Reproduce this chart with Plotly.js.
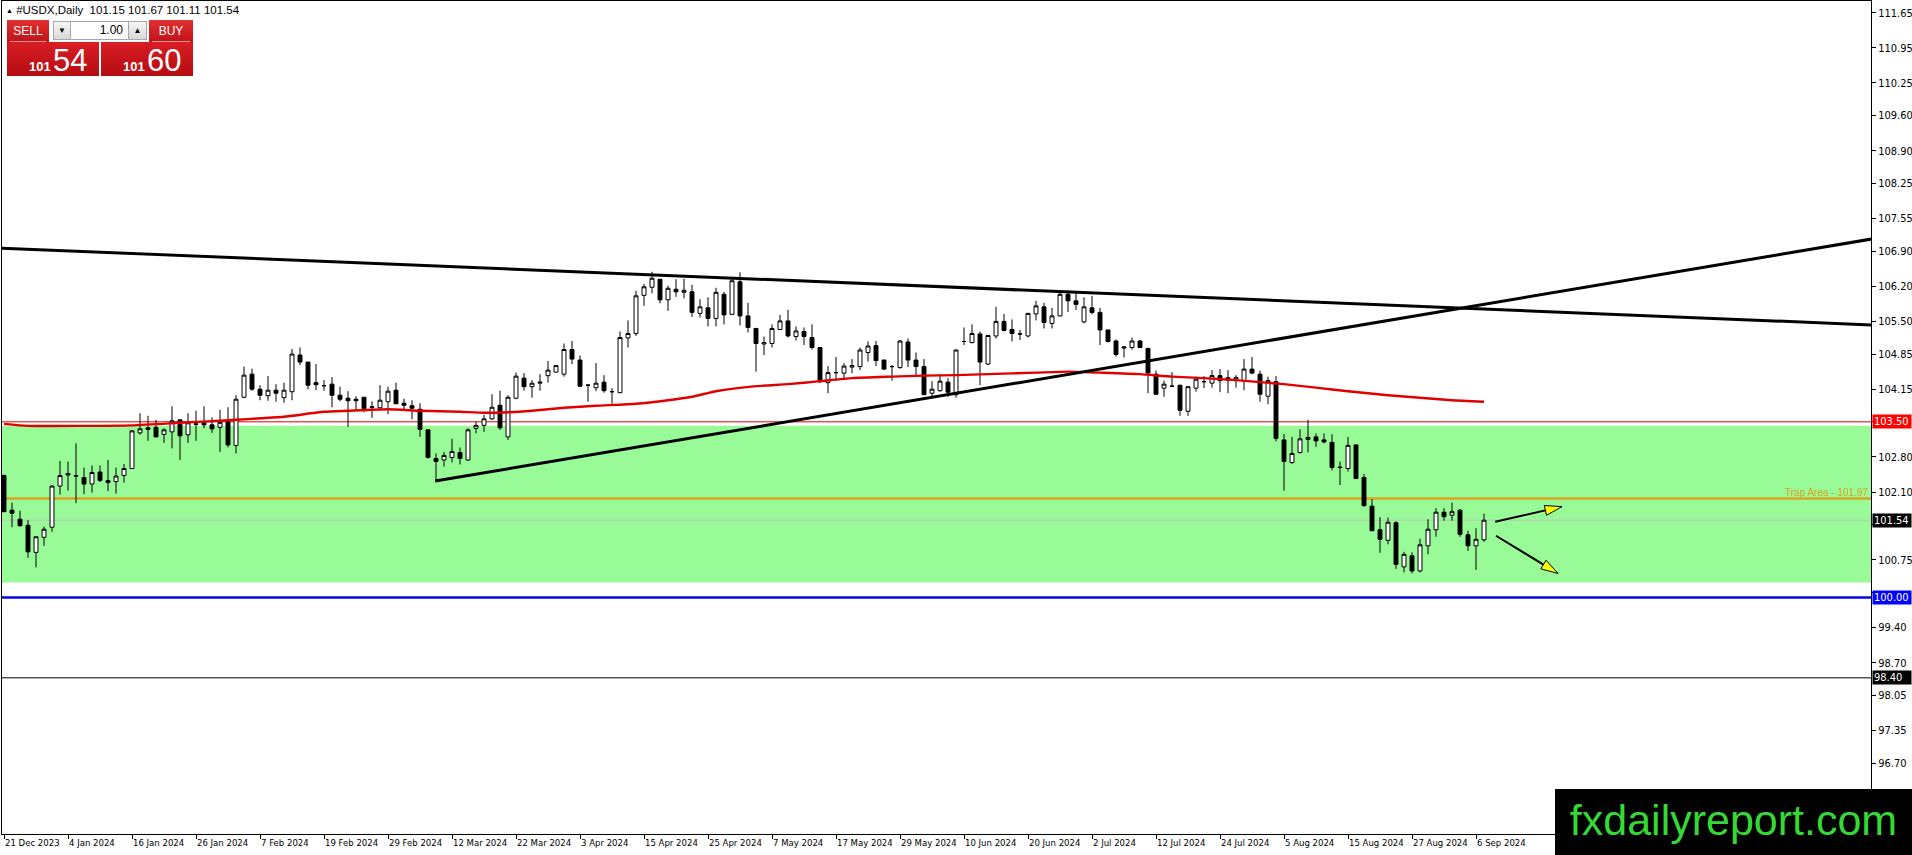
<!DOCTYPE html>
<html>
<head>
<meta charset="utf-8">
<script src="https://cdn.plot.ly/plotly-3.0.1.min.js"></script>
<style>
  html, body { margin:0; padding:0; background:#fff; }
  #wrap { position:relative; width:1912px; height:855px; overflow:hidden; }
  #chart { position:absolute; left:0; top:0; width:1912px; height:855px; }
  .ov { position:absolute; box-sizing:border-box; font-family:'Liberation Sans', Arial, sans-serif; }
  .red { background:linear-gradient(#e23030, #c01218); color:#fff; }
  .redbig { background:linear-gradient(#d81e24, #b40c12); color:#fff; }
  .spin { background:linear-gradient(#f6f6f6, #d8d8d8); border:1px solid #a8a8a8; color:#000; font-size:8px; text-align:center; line-height:17px; }
</style>
</head>
<body>
<div id="wrap">
  <div id="chart"></div>
  <div class="ov" style="left:6px;top:3px;font-size:11.5px;color:#000;white-space:nowrap;line-height:14px;"><span style="font-size:7px;vertical-align:1px;">▲</span>&nbsp;#USDX,Daily&nbsp;&nbsp;101.15 101.67 101.11 101.54</div>
  <div class="ov red" style="left:7px;top:20px;width:42px;height:22px;font-size:12px;text-align:center;line-height:22px;">SELL</div>
  <div class="ov" style="left:10px;top:41px;width:36px;height:1px;background:rgba(255,255,255,0.55);"></div>
  <div class="ov spin" style="left:53px;top:21px;width:18px;height:19px;">▼</div>
  <div class="ov" style="left:71px;top:21px;width:57px;height:19px;background:#fff;border-top:1px solid #a8a8a8;border-bottom:1px solid #a8a8a8;font-size:12px;text-align:right;padding-right:5px;line-height:17px;color:#000;">1.00</div>
  <div class="ov spin" style="left:128px;top:21px;width:19px;height:19px;">▲</div>
  <div class="ov red" style="left:149px;top:20px;width:44px;height:22px;font-size:12px;text-align:center;line-height:22px;">BUY</div>
  <div class="ov" style="left:152px;top:41px;width:38px;height:1px;background:rgba(255,255,255,0.55);"></div>
  <div class="ov redbig" style="left:7px;top:42px;width:92px;height:34px;">
    <span style="position:absolute;left:22px;top:17px;font-size:13px;font-weight:bold;">101</span>
    <span style="position:absolute;left:46px;top:1px;font-size:31px;">54</span>
  </div>
  <div class="ov redbig" style="left:101px;top:42px;width:92px;height:34px;">
    <span style="position:absolute;left:22px;top:17px;font-size:13px;font-weight:bold;">101</span>
    <span style="position:absolute;left:46px;top:1px;font-size:31px;">60</span>
  </div>
  <div class="ov" style="left:1555px;top:789px;width:357px;height:66px;background:#000;color:#35d935;font-size:43px;text-align:center;line-height:62px;">fxdailyreport.com</div>
</div>
<script>
// ---- data (bar index = trading day since 21 Dec 2023) ----
const tickLabels = ['21 Dec 2023','4 Jan 2024','16 Jan 2024','26 Jan 2024','7 Feb 2024','19 Feb 2024','29 Feb 2024','12 Mar 2024','22 Mar 2024','3 Apr 2024','15 Apr 2024','25 Apr 2024','7 May 2024','17 May 2024','29 May 2024','10 Jun 2024','20 Jun 2024','2 Jul 2024','12 Jul 2024','24 Jul 2024','5 Aug 2024','15 Aug 2024','27 Aug 2024','6 Sep 2024'];
const barsPerLabel = 8;

const open  = [102.43,101.74,101.56,101.44,100.90,101.20,101.40,102.22,102.44,102.43,102.39,102.26,102.50,102.33,102.31,102.43,102.57,103.28,103.38,103.39,103.25,103.30,103.54,103.24,103.46,103.48,103.44,103.39,103.50,103.03,
103.99,104.45,104.15,104.02,104.13,103.98,104.10,104.83,104.69,104.28,104.22,104.25,104.03,103.97,103.95,103.99,103.80,103.78,103.90,104.13,103.87,103.82,103.75,103.34,102.77,102.74,102.79,102.89,102.74,103.37,
103.43,103.56,103.83,103.20,103.97,104.37,104.20,104.27,104.42,104.49,104.45,104.94,104.73,104.23,104.18,104.29,104.10,104.08,105.17,105.26,106.02,106.18,106.34,105.93,106.14,106.08,106.09,105.66,105.77,105.56,
106.04,105.64,106.29,105.61,105.36,105.05,105.06,105.34,105.51,105.20,105.30,105.18,104.98,104.28,104.48,104.47,104.59,104.60,104.88,105.02,104.73,104.60,104.58,105.09,104.73,104.60,104.07,104.12,104.29,104.04,
105.10,105.08,105.25,104.65,105.21,105.50,105.34,105.25,105.21,105.65,105.79,105.46,105.61,106.04,105.91,105.49,105.77,105.68,105.33,105.11,104.97,104.98,105.11,104.96,104.45,104.17,104.21,104.23,103.71,104.17,
104.30,104.27,104.42,104.33,104.35,104.31,104.55,104.45,104.01,104.30,103.14,102.69,102.89,103.15,103.20,103.14,103.09,102.60,102.57,103.04,102.39,101.82,101.35,101.14,101.49,100.61,100.83,100.53,101.03,101.35,
101.70,101.64,101.74,101.25,101.03,101.15];
const high  = [102.45,101.89,101.73,101.54,101.22,101.41,102.24,102.72,102.71,103.07,102.59,102.63,102.63,102.74,102.59,102.66,103.34,103.67,103.62,103.54,103.37,103.81,103.54,103.67,103.72,103.81,103.59,103.74,103.79,104.03,
104.60,104.56,104.23,104.41,104.25,104.28,104.95,104.98,104.69,104.65,104.33,104.39,104.20,104.11,104.01,103.99,103.91,104.23,104.20,104.28,103.96,103.93,103.87,103.34,102.87,102.90,103.16,102.99,103.37,103.50,
103.64,104.05,104.12,104.03,104.48,104.47,104.33,104.45,104.71,104.62,105.06,105.11,104.82,104.25,104.67,104.43,104.17,105.30,105.52,106.11,106.25,106.49,106.34,106.21,106.34,106.35,106.23,105.94,105.98,106.17,
106.09,106.38,106.48,105.87,105.36,105.20,105.44,105.63,105.73,105.40,105.38,105.44,104.98,104.61,104.79,104.67,104.75,104.98,105.10,105.11,104.74,104.63,105.13,105.16,104.88,104.75,104.31,104.45,104.37,104.94,
105.38,105.44,105.30,105.22,105.79,105.65,105.54,105.33,105.67,105.91,105.87,105.77,106.11,106.11,106.11,105.98,106.01,105.77,105.33,105.14,105.01,105.18,105.13,104.98,104.52,104.32,104.49,104.23,104.21,104.40,
104.41,104.53,104.55,104.53,104.43,104.75,104.79,104.52,104.40,104.41,103.26,103.20,103.35,103.54,103.27,103.27,103.25,102.71,103.20,103.04,102.46,101.96,101.60,101.59,101.52,100.91,100.90,101.17,101.56,101.78,
101.78,101.89,101.76,101.33,101.38,101.67];
const low   = [101.70,101.40,101.41,100.79,100.60,101.03,101.31,102.05,102.13,101.88,102.06,102.09,102.30,102.12,102.07,102.29,102.56,103.24,103.12,103.19,103.08,102.97,102.74,103.08,103.12,103.37,103.28,102.90,102.99,102.87,
103.97,104.12,103.93,103.92,103.90,103.88,103.93,104.63,104.15,104.13,104.12,103.79,103.91,103.40,103.72,103.69,103.58,103.75,103.65,103.86,103.75,103.55,103.20,102.77,102.33,102.61,102.69,102.65,102.72,103.27,
103.30,103.54,103.34,103.14,103.95,104.12,103.98,104.12,104.28,104.48,104.40,104.65,104.19,103.90,104.11,104.08,103.86,104.07,104.98,105.21,105.81,106.06,105.86,105.71,105.99,105.96,105.59,105.58,105.40,105.40,
105.44,105.63,105.42,105.28,104.50,104.83,104.98,105.33,105.18,105.12,105.03,104.94,104.27,104.07,104.32,104.37,104.47,104.53,104.70,104.61,104.53,104.32,104.56,104.59,104.43,104.03,104.00,104.10,104.00,103.98,
105.03,105.06,104.23,104.63,105.16,105.30,105.10,105.13,105.18,105.52,105.36,105.36,105.60,105.69,105.73,105.46,105.64,105.03,105.08,104.80,104.78,104.94,104.97,104.07,104.03,104.00,104.19,103.62,103.62,104.10,
104.17,104.18,104.09,104.07,104.18,104.13,104.45,103.90,103.85,103.11,102.13,102.66,102.87,102.89,103.00,103.07,102.53,102.24,102.51,102.37,101.81,101.33,100.89,101.06,100.57,100.50,100.48,100.50,100.86,101.21,
101.53,101.53,101.21,100.93,100.55,101.11];
const close = [101.71,101.68,101.43,100.91,101.21,101.36,102.22,102.43,102.47,102.42,102.26,102.49,102.33,102.29,102.42,102.57,103.32,103.36,103.35,103.20,103.34,103.52,103.22,103.48,103.45,103.44,103.36,103.49,103.04,103.95,
104.43,104.15,104.03,104.13,104.07,104.13,104.85,104.69,104.23,104.24,104.22,104.03,103.95,103.92,103.92,103.76,103.79,103.93,104.11,103.86,103.83,103.77,103.35,102.79,102.71,102.83,102.91,102.77,103.34,103.43,
103.56,103.79,103.38,103.99,104.41,104.20,104.27,104.29,104.53,104.62,104.94,104.75,104.21,104.23,104.27,104.12,104.10,105.18,105.26,106.01,106.19,106.36,105.93,106.16,106.09,106.12,105.68,105.79,105.56,106.08,
105.63,106.31,105.61,105.38,105.06,105.08,105.36,105.51,105.21,105.31,105.20,104.98,104.30,104.48,104.48,104.61,104.62,104.93,105.01,104.72,104.55,104.60,105.11,104.73,104.60,104.04,104.15,104.31,104.09,104.93,
105.10,105.26,104.69,105.22,105.50,105.32,105.26,105.25,105.66,105.81,105.48,105.61,106.04,105.91,105.84,105.79,105.68,105.33,105.10,104.84,104.99,105.11,104.98,104.47,104.05,104.25,104.21,103.73,104.20,104.35,
104.30,104.42,104.32,104.38,104.38,104.55,104.47,104.05,104.32,103.17,102.71,102.87,103.16,103.19,103.12,103.10,102.59,102.59,103.03,102.37,101.83,101.33,101.16,101.50,100.66,100.86,100.53,101.05,101.36,101.70,
101.61,101.71,101.26,101.03,101.16,101.54];

// red moving average, read at sample bars
const maIdx = [0,3,16,22,29,32,35,40,43,48,52,57,60,63,66,70,74,79,83,86,89,94,98,102,106,111,115,119,123,129,133,137,142,146,150,154,160,164,168,173,177,181,185];
const maVal = [103.46,103.42,103.43,103.48,103.54,103.57,103.60,103.70,103.72,103.75,103.72,103.70,103.68,103.69,103.72,103.78,103.82,103.86,103.93,104.00,104.11,104.21,104.25,104.31,104.37,104.40,104.42,104.43,104.45,104.48,104.50,104.48,104.45,104.40,104.37,104.33,104.25,104.18,104.11,104.03,103.98,103.93,103.90];

// trend lines (bar index, price)
const trendDownX = [-0.25, 233.4], trendDownY = [106.96, 105.43];
const trendUpX   = [53.9, 233.4],  trendUpY   = [102.32, 107.14];

// horizontal levels
const zoneTop = 103.42, zoneBottom = 100.30;
const resLevel = 103.50, trapLevel = 101.97, bidLevel = 101.54, psychLevel = 100.00, supLevel = 98.40;

// arrows [startIdx, startPrice, tipIdx, tipPrice]
const arrowUp   = [186.4, 101.51, 194.75, 101.81];
const arrowDown = [186.5, 101.23, 194.25, 100.48];

const yTicks = [111.65,110.95,110.25,109.60,108.90,108.25,107.55,106.90,106.20,105.50,104.85,104.15,103.50,102.80,102.10,101.45,100.75,100.10,99.40,98.70,98.05,97.35,96.70];
const hiddenTicks = [103.50, 101.45, 100.10];   // covered by the price tags

// ---- layout constants ----
const W = 1912, H = 855;
const M = {l:2, r:41, t:1, b:21};
const xr = [-0.25, 233.375];
const yr = [95.289, 111.883];
const plotW = W - M.l - M.r, plotH = H - M.t - M.b;
const pxX = plotW / (xr[1]-xr[0]);
const pxY = plotH / (yr[1]-yr[0]);

const idx = open.map((_, i) => i);
const tickPos = tickLabels.map((_, k) => k * barsPerLabel);
const axisFont = {family:"'Liberation Sans Narrow', 'DejaVu Sans Condensed', 'Arial Narrow', sans-serif", size:11, color:'#000'};
const dateFont = {family:"'DejaVu Sans Condensed', 'Liberation Sans Narrow', sans-serif", size:9.5, color:'#000'};

const traces = [
  {
    type:'candlestick', x: idx, open: open, high: high, low: low, close: close,
    increasing:{line:{color:'#000', width:1}, fillcolor:'#ffffff'},
    decreasing:{line:{color:'#000', width:1}, fillcolor:'#000000'},
    whiskerwidth:0, hoverinfo:'none', showlegend:false
  },
  {type:'scatter', mode:'lines', x: maIdx, y: maVal, line:{color:'#e00000', width:2.4, shape:'spline', smoothing:0.5}, hoverinfo:'none', showlegend:false},
  {type:'scatter', mode:'lines', x: trendDownX, y: trendDownY, line:{color:'#000', width:3}, hoverinfo:'none', showlegend:false},
  {type:'scatter', mode:'lines', x: trendUpX, y: trendUpY, line:{color:'#000', width:3}, hoverinfo:'none', showlegend:false}
];

function hline(y, color, width) {
  return {type:'line', xref:'paper', x0:0, x1:1, yref:'y', y0:y, y1:y, line:{color:color, width:width}, layer:'below'};
}

function arrowShapes(a) {
  const [xs, ys, xt, yt] = a;
  const dx = (xt - xs) * pxX, dy = (yt - ys) * pxY;
  const len = Math.hypot(dx, dy), ux = dx/len, uy = dy/len;
  const headL = 17, headW = 5;
  const bx = -ux*headL, by = -uy*headL;
  const px = -uy*headW, py = ux*headW;
  const baseIdx = xt + bx / pxX, basePrice = yt + by / pxY;
  return [
    {type:'line', xref:'x', yref:'y', x0:xs, y0:ys, x1:baseIdx, y1:basePrice, line:{color:'#000', width:2}},
    {type:'path', xref:'x', yref:'y', xsizemode:'pixel', ysizemode:'pixel', xanchor:xt, yanchor:yt,
     path:`M0,0 L${(bx+px).toFixed(2)},${(by+py).toFixed(2)} L${(bx-px).toFixed(2)},${(by-py).toFixed(2)} Z`,
     fillcolor:'#ffff00', line:{color:'#000', width:1}}
  ];
}

const shapes = [
  {type:'rect', xref:'paper', x0:0, x1:1, yref:'y', y0:zoneBottom, y1:zoneTop, fillcolor:'#98fb98', line:{width:0}, layer:'below'},
  hline(resLevel, '#e00000', 1),
  hline(trapLevel, '#daa520', 2.5),
  hline(bidLevel, '#c0c0c0', 1),
  hline(psychLevel, '#0000e6', 2.5),
  hline(supLevel, '#000000', 1),
  ...arrowShapes(arrowUp),
  ...arrowShapes(arrowDown)
];

function priceTag(y, bg) {
  return {xref:'paper', x:1, xanchor:'left', xshift:1, yref:'y', y:y, yanchor:'middle',
    text: y.toFixed(2), showarrow:false, bgcolor:bg, borderpad:1, width:36, height:11, align:'left',
    font:{family:axisFont.family, size:11, color:'#fff'}};
}

const annotations = [
  priceTag(resLevel, '#ff0000'),
  priceTag(bidLevel, '#000000'),
  priceTag(psychLevel, '#0000ff'),
  priceTag(supLevel, '#000000'),
  {xref:'paper', x:1, xanchor:'right', xshift:-2, yref:'y', y:trapLevel, yanchor:'bottom', yshift:0,
   text:'Trap Area - ' + trapLevel.toFixed(2), showarrow:false, borderpad:0,
   font:{family:"'Liberation Sans', Arial, sans-serif", size:10, color:'#daa520'}}
];

const layout = {
  width:W, height:H, margin:M,
  paper_bgcolor:'#ffffff', plot_bgcolor:'#ffffff',
  showlegend:false, hovermode:false, dragmode:false,
  xaxis:{
    range:xr, fixedrange:true, rangeslider:{visible:false},
    showgrid:false, zeroline:false, showline:true, mirror:true, linecolor:'#000', linewidth:1,
    tickmode:'array', tickvals:tickPos, ticktext:tickLabels, tickangle:0,
    ticks:'outside', ticklen:4, tickcolor:'#000', tickwidth:1,
    ticklabelposition:'outside right', tickfont:dateFont
  },
  yaxis:{
    range:yr, fixedrange:true, side:'right',
    showgrid:false, zeroline:false, showline:true, mirror:true, linecolor:'#000', linewidth:1,
    tickmode:'array', tickvals:yTicks,
    ticktext:yTicks.map(v => hiddenTicks.includes(v) ? '' : v.toFixed(2)),
    ticks:'outside', ticklen:4, tickcolor:'#000', tickwidth:1, tickfont:axisFont
  },
  shapes:shapes,
  annotations:annotations
};

Plotly.newPlot('chart', traces, layout, {staticPlot:true, displayModeBar:false});
</script>
</body>
</html>
